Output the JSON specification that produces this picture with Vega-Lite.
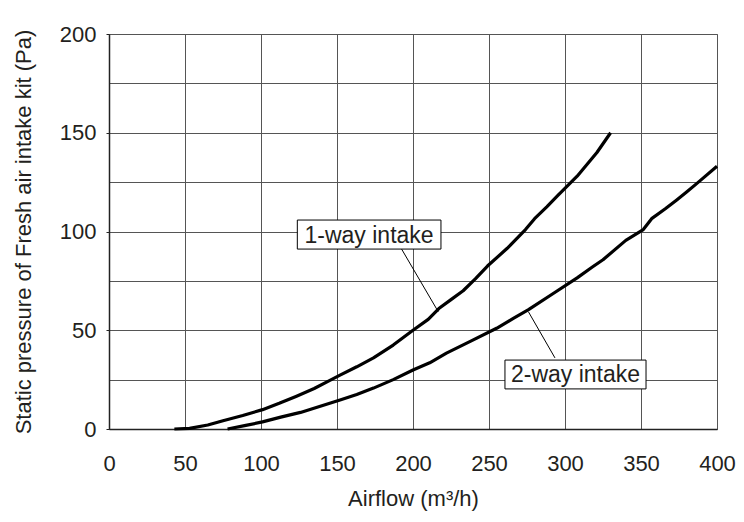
{
  "$schema": "https://vega.github.io/schema/vega-lite/v6.json",
  "width": 608,
  "height": 395,
  "autosize": {"type": "none"},
  "padding": {"left": 109, "top": 34, "right": 27, "bottom": 93},
  "background": "white",
  "config": {
    "view": {"stroke": "#888", "strokeWidth": 1},
    "font": "Liberation Sans",
    "axis": {
      "labelFont": "Liberation Sans",
      "titleFont": "Liberation Sans",
      "labelFontSize": 22,
      "titleFontSize": 22,
      "labelColor": "#231f20",
      "titleColor": "#231f20",
      "titleFontWeight": "normal",
      "gridColor": "#555",
      "gridOpacity": 1,
      "gridWidth": 1,
      "domainColor": "#222",
      "domainWidth": 1.5,
      "tickColor": "#222"
    }
  },
  "datasets": {
    "curves": [
      {"series": "1-way", "airflow": 43, "pressure": 0},
      {"series": "1-way", "airflow": 53, "pressure": 0.3},
      {"series": "1-way", "airflow": 65, "pressure": 2},
      {"series": "1-way", "airflow": 75, "pressure": 4.2},
      {"series": "1-way", "airflow": 88, "pressure": 6.8},
      {"series": "1-way", "airflow": 101, "pressure": 9.8},
      {"series": "1-way", "airflow": 112, "pressure": 13},
      {"series": "1-way", "airflow": 123, "pressure": 16.5},
      {"series": "1-way", "airflow": 135, "pressure": 20.5},
      {"series": "1-way", "airflow": 145, "pressure": 24.5},
      {"series": "1-way", "airflow": 152, "pressure": 27.3},
      {"series": "1-way", "airflow": 163, "pressure": 31.5},
      {"series": "1-way", "airflow": 174, "pressure": 36},
      {"series": "1-way", "airflow": 187, "pressure": 42.5},
      {"series": "1-way", "airflow": 200, "pressure": 50},
      {"series": "1-way", "airflow": 210, "pressure": 55.5},
      {"series": "1-way", "airflow": 217, "pressure": 61},
      {"series": "1-way", "airflow": 225, "pressure": 65.5},
      {"series": "1-way", "airflow": 233, "pressure": 70},
      {"series": "1-way", "airflow": 241, "pressure": 76},
      {"series": "1-way", "airflow": 249, "pressure": 82.5},
      {"series": "1-way", "airflow": 262, "pressure": 91.5},
      {"series": "1-way", "airflow": 274, "pressure": 101},
      {"series": "1-way", "airflow": 280, "pressure": 106.5},
      {"series": "1-way", "airflow": 288, "pressure": 112.5},
      {"series": "1-way", "airflow": 295, "pressure": 118},
      {"series": "1-way", "airflow": 308, "pressure": 128},
      {"series": "1-way", "airflow": 321, "pressure": 140},
      {"series": "1-way", "airflow": 330, "pressure": 150},
      {"series": "2-way", "airflow": 78, "pressure": 0},
      {"series": "2-way", "airflow": 90, "pressure": 1.8},
      {"series": "2-way", "airflow": 101, "pressure": 3.6},
      {"series": "2-way", "airflow": 113, "pressure": 6},
      {"series": "2-way", "airflow": 126, "pressure": 8.4},
      {"series": "2-way", "airflow": 139, "pressure": 11.5},
      {"series": "2-way", "airflow": 152, "pressure": 14.7},
      {"series": "2-way", "airflow": 163, "pressure": 17.5},
      {"series": "2-way", "airflow": 174, "pressure": 20.7},
      {"series": "2-way", "airflow": 187, "pressure": 25},
      {"series": "2-way", "airflow": 200, "pressure": 29.9},
      {"series": "2-way", "airflow": 211, "pressure": 33.5},
      {"series": "2-way", "airflow": 222, "pressure": 38.4},
      {"series": "2-way", "airflow": 238, "pressure": 44.5},
      {"series": "2-way", "airflow": 255, "pressure": 51},
      {"series": "2-way", "airflow": 266, "pressure": 56},
      {"series": "2-way", "airflow": 276, "pressure": 60.4},
      {"series": "2-way", "airflow": 292, "pressure": 68.5},
      {"series": "2-way", "airflow": 308, "pressure": 76.5},
      {"series": "2-way", "airflow": 318, "pressure": 82},
      {"series": "2-way", "airflow": 325, "pressure": 85.7},
      {"series": "2-way", "airflow": 340, "pressure": 95.5},
      {"series": "2-way", "airflow": 351.5, "pressure": 101},
      {"series": "2-way", "airflow": 357, "pressure": 106.5},
      {"series": "2-way", "airflow": 366, "pressure": 111.5},
      {"series": "2-way", "airflow": 373.5, "pressure": 116},
      {"series": "2-way", "airflow": 380, "pressure": 120},
      {"series": "2-way", "airflow": 387, "pressure": 124.5},
      {"series": "2-way", "airflow": 400, "pressure": 133}
    ],
    "leaders": [
      {"series": "1-way", "x1": 192.5, "y1": 91.1, "x2": 216.6, "y2": 59.4},
      {"series": "2-way", "x1": 293.4, "y1": 36.0, "x2": 275.9, "y2": 59.4}
    ],
    "labels": [
      {"label": "1-way intake", "bx1": 123.9, "bx2": 218.4, "by1": 91.1, "by2": 105.8, "cx": 171.1, "cy": 98.45},
      {"label": "2-way intake", "bx1": 260.5, "bx2": 353.3, "by1": 20.3, "by2": 34.9, "cx": 306.9, "cy": 27.6}
    ]
  },
  "layer": [
    {
      "data": {"name": "curves"},
      "mark": {"type": "line", "color": "black", "strokeWidth": 3.2, "strokeJoin": "round", "strokeCap": "butt"},
      "encoding": {
        "x": {
          "field": "airflow",
          "type": "quantitative",
          "scale": {"domain": [0, 400], "nice": false},
          "axis": {
            "title": "Airflow (m³/h)",
            "values": [0, 25, 50, 75, 100, 125, 150, 175, 200, 225, 250, 275, 300, 325, 350, 375, 400],
            "labelExpr": "datum.value % 50 === 0 ? datum.label : ''",
            "grid": true,
            "ticks": false,
            "labelPadding": 24,
            "titlePadding": 14,
            "labelFlush": false
          }
        },
        "y": {
          "field": "pressure",
          "type": "quantitative",
          "scale": {"domain": [0, 200], "nice": false},
          "axis": {
            "title": "Static pressure of Fresh air intake kit (Pa)",
            "values": [0, 25, 50, 75, 100, 125, 150, 175, 200],
            "labelExpr": "datum.value % 50 === 0 ? datum.label : ''",
            "grid": true,
            "ticks": true,
            "tickSize": 3,
            "tickOpacity": {"condition": {"test": "datum.value % 50 === 0", "value": 1}, "value": 0},
            "labelPadding": 10,
            "titlePadding": 24,
            "labelFlush": false
          }
        },
        "detail": {"field": "series"}
      }
    },
    {
      "data": {"name": "leaders"},
      "mark": {"type": "rule", "color": "black", "strokeWidth": 1},
      "encoding": {
        "x": {"field": "x1", "type": "quantitative"},
        "y": {"field": "y1", "type": "quantitative"},
        "x2": {"field": "x2"},
        "y2": {"field": "y2"}
      }
    },
    {
      "data": {"name": "labels"},
      "mark": {"type": "rect", "fill": "white", "stroke": "black", "strokeWidth": 1},
      "encoding": {
        "x": {"field": "bx1", "type": "quantitative"},
        "x2": {"field": "bx2"},
        "y": {"field": "by1", "type": "quantitative"},
        "y2": {"field": "by2"}
      }
    },
    {
      "data": {"name": "labels"},
      "mark": {"type": "text", "font": "Liberation Sans", "fontSize": 23, "color": "#231f20", "align": "center", "baseline": "middle", "dy": 1},
      "encoding": {
        "x": {"field": "cx", "type": "quantitative"},
        "y": {"field": "cy", "type": "quantitative"},
        "text": {"field": "label"}
      }
    }
  ]
}
